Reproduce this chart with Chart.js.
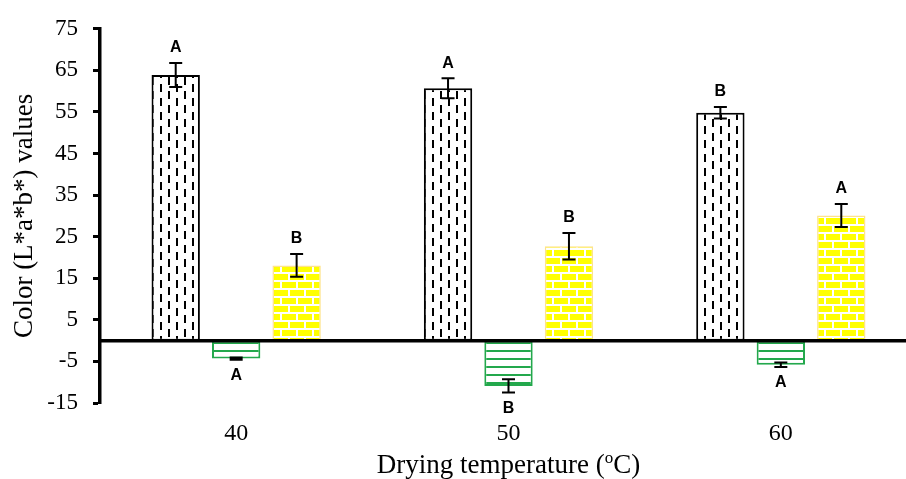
<!DOCTYPE html>
<html>
<head>
<meta charset="utf-8">
<script src="https://cdn.jsdelivr.net/npm/chart.js@4.4.1/dist/chart.umd.min.js"></script>
<style>
  html,body{margin:0;padding:0;background:#fff;overflow:hidden;}
  #wrap{position:relative;width:917px;height:479px;}
</style>
</head>
<body>
<div id="wrap"><canvas id="c"></canvas></div>
<script>
// ---- data ----
const categories = ['40', '50', '60'];
const seriesNames = ['L*', 'a*', 'b*'];
const valuesL = [63.9, 60.7, 54.8];
const valuesA = [-4.3, -10.9, -5.8];
const valuesB = [18.1, 22.7, 30.1];
const errL = [2.9, 2.4, 1.4];
const errA = [0.15, 1.6, 0.55];
const errB = [2.75, 3.2, 2.75];
const lettersL = ['A', 'A', 'B'];
const lettersA = ['A', 'B', 'A'];
const lettersB = ['B', 'B', 'A'];
const yTicks = [-15, -5, 5, 15, 25, 35, 45, 55, 65, 75];

const errs = [errL, errA, errB];
const letters = [lettersL, lettersA, lettersB];

const SERIF = "'Times New Roman', 'Liberation Serif', serif";
const GREEN = '#23a84c';

// ---- patterns ----
function makePattern(w, h, draw) {
  const c = document.createElement('canvas');
  c.width = w; c.height = h;
  const g = c.getContext('2d');
  draw(g);
  return document.getElementById('c').getContext('2d').createPattern(c, 'repeat');
}
const patL = makePattern(16, 14, g => {
  g.fillStyle = '#fff'; g.fillRect(0, 0, 16, 14);
  g.fillStyle = '#000';
  g.fillRect(0, 0, 2, 8);
  g.fillRect(8, 7, 2, 7);
  g.fillRect(8, 0, 2, 1);
});
const patA = makePattern(8, 8, g => {
  g.fillStyle = '#fff'; g.fillRect(0, 0, 8, 8);
  g.fillStyle = GREEN; g.fillRect(0, 6, 8, 2);
});
const patB = makePattern(16, 16, g => {
  g.fillStyle = '#ffff00'; g.fillRect(0, 0, 16, 16);
  g.fillStyle = '#fff';
  g.fillRect(0, 0, 16, 2);
  g.fillRect(0, 8, 16, 2);
  g.fillRect(0, 0, 2, 8);
  g.fillRect(8, 8, 2, 8);
});

// ---- overlay plugin: zero line, error bars, letters, x title ----
const overlay = {
  id: 'overlay',
  afterDatasetsDraw(chart) {
    const {ctx, scales: {x, y}, chartArea} = chart;
    ctx.save();
    const y0 = y.getPixelForValue(0);
    ctx.strokeStyle = '#000';
    ctx.lineWidth = 3.5;
    ctx.beginPath();
    ctx.moveTo(chartArea.left, y0);
    ctx.lineTo(chartArea.right, y0);
    ctx.stroke();

    ctx.font = "bold 16px 'Liberation Sans', Arial, sans-serif";
    ctx.textAlign = 'center';
    ctx.textBaseline = 'middle';
    ctx.fillStyle = '#000';
    chart.data.datasets.forEach((ds, di) => {
      const meta = chart.getDatasetMeta(di);
      meta.data.forEach((bar, i) => {
        const v = ds.data[i], e = errs[di][i];
        const cx = bar.x;
        const yt = y.getPixelForValue(v + e);
        const yb = y.getPixelForValue(v - e);
        const hw = 6.5;
        ctx.lineWidth = (yb - yt) < 4 ? 3 : 2;
        ctx.beginPath();
        ctx.moveTo(cx, yt); ctx.lineTo(cx, yb);
        ctx.moveTo(cx - hw, yt); ctx.lineTo(cx + hw, yt);
        ctx.moveTo(cx - hw, yb); ctx.lineTo(cx + hw, yb);
        ctx.stroke();
        const ly = v >= 0 ? yt - 15 : yb + 16;
        ctx.fillText(letters[di][i], cx, ly);
      });
    });
    ctx.restore();
  },
  afterDraw(chart) {
    const {ctx, chartArea} = chart;
    ctx.save();
    ctx.fillStyle = '#000';
    ctx.textBaseline = 'alphabetic';
    ctx.textAlign = 'left';
    const big = '27px ' + SERIF, small = '17px ' + SERIF;
    const t1 = 'Drying temperature (', t2 = 'o', t3 = 'C)';
    ctx.font = big; const w1 = ctx.measureText(t1).width, w3 = ctx.measureText(t3).width;
    ctx.font = small; const w2 = ctx.measureText(t2).width;
    const total = w1 + w2 + w3;
    let xx = (chartArea.left + chartArea.right) / 2 - total / 2;
    const by = 473;
    ctx.font = big; ctx.fillText(t1, xx, by); xx += w1;
    ctx.font = small; ctx.fillText(t2, xx, by - 10); xx += w2;
    ctx.font = big; ctx.fillText(t3, xx, by);
    ctx.restore();
  }
};

new Chart(document.getElementById('c'), {
  type: 'bar',
  data: {
    labels: categories,
    datasets: [
      {label: seriesNames[0], data: valuesL, backgroundColor: patL, borderColor: '#000', borderWidth: 2},
      {label: seriesNames[1], data: valuesA, backgroundColor: patA, borderColor: GREEN, borderWidth: 2},
      {label: seriesNames[2], data: valuesB, backgroundColor: patB, borderColor: '#fde38c', borderWidth: 1.5}
    ]
  },
  options: {
    responsive: true,
    maintainAspectRatio: false,
    animation: false,
    events: [],
    datasets: {bar: {categoryPercentage: 0.666, barPercentage: 0.8, borderSkipped: false}},
    layout: {padding: {top: 23, right: 0, bottom: 0, left: 0}},
    plugins: {legend: {display: false}, tooltip: {enabled: false}, title: {display: false}},
    scales: {
      x: {
        offset: true,
        grid: {display: false, drawTicks: false},
        border: {display: false},
        ticks: {color: '#000', padding: 16, font: {family: SERIF, size: 24}},
        afterFit(s) { s.height = 76; }
      },
      y: {
        min: -15, max: 75,
        afterBuildTicks(s) { s.ticks = yTicks.map(v => ({value: v})); },
        grid: {drawOnChartArea: false, drawTicks: true, tickLength: 7, tickWidth: 3, tickColor: '#000'},
        border: {display: true, width: 3.5, color: '#000'},
        ticks: {color: '#000', padding: 15, font: {family: SERIF, size: 23}},
        title: {display: true, text: 'Color (L*a*b*) values', color: '#000', font: {family: SERIF, size: 27}, padding: {top: 9, bottom: 0}},
        afterFit(s) { s.width = 100; }
      }
    }
  },
  plugins: [overlay]
});
</script>
</body>
</html>
